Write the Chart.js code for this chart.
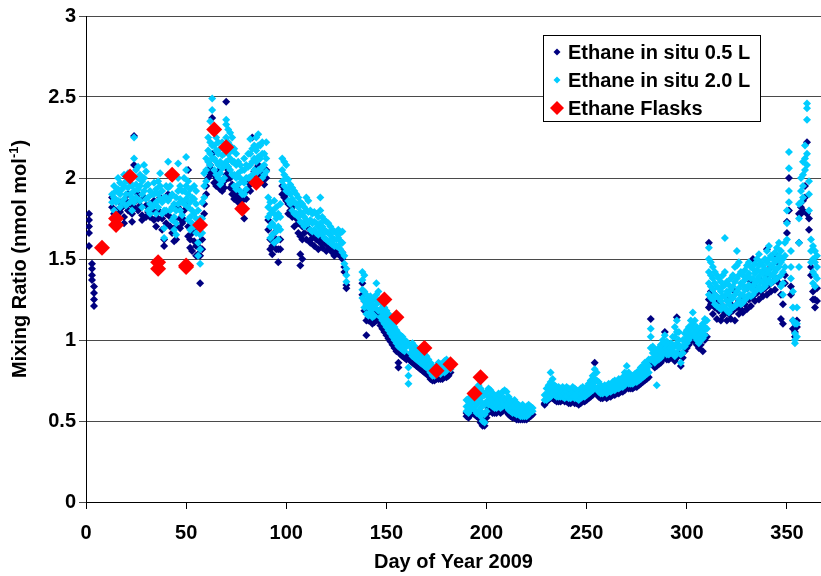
<!DOCTYPE html>
<html>
<head>
<meta charset="utf-8">
<script src="https://cdn.jsdelivr.net/npm/chart.js@4/dist/chart.umd.min.js"></script>
<style>
  body { margin: 0; background: #fff; }
  #wrap { width: 821px; height: 576px; }
</style>
</head>
<body>
<div id="wrap"><canvas id="ethaneChart" width="821" height="576"></canvas></div>
<script>
// each row: [day, value, value, ...] (nmol/mol)
const insitu05 = [
  [1.5, 1.78, 1.74, 1.70, 1.66, 1.58], [3, 1.47, 1.44, 1.40, 1.37], [4, 1.33, 1.29, 1.25, 1.21],
  [13, 1.88, 1.82], [14, 1.78], [15, 1.80, 1.86], [16, 1.75], [17, 1.85, 1.79],
  [18, 1.82], [19, 1.76, 1.72], [20, 1.86], [21, 1.80, 1.90], [22, 1.84],
  [23, 1.78, 1.73], [24, 2.26, 2.08, 1.82], [25, 1.86], [26, 1.90, 1.80], [27, 1.83],
  [28, 1.77, 1.74], [29, 1.88], [30, 1.83, 1.76], [31, 1.79], [32, 1.76, 1.84],
  [33, 1.80], [34, 1.74, 1.86], [35, 1.70], [36, 1.80, 1.75], [37, 1.88],
  [38, 1.75, 1.68], [39, 1.62, 1.58], [40, 1.78, 1.72], [41, 1.90], [42, 1.76, 1.70],
  [43, 1.66], [44, 1.61, 1.74], [45, 1.70, 1.62], [46, 1.82], [47, 1.75, 1.69],
  [48, 1.72], [49, 1.80, 1.74], [50, 1.85], [51, 2.05, 1.70, 1.64], [52, 1.62, 1.57],
  [53, 1.66, 1.55], [54, 1.68, 1.61], [55, 1.58, 1.52], [56, 1.58, 1.53],
  [57, 1.52, 1.35], [58, 1.62, 1.56], [59, 1.84, 1.78], [60, 1.95, 1.90], [61, 2.05, 2.00],
  [62, 2.08, 2.02], [63, 2.37, 2.15, 2.05], [64, 2.02, 1.97], [65, 2.00, 1.95], [66, 2.04, 1.98],
  [67, 1.98, 1.93], [68, 1.96, 1.92], [69, 1.98, 1.94], [70, 2.47, 2.08, 2.02], [71, 2.05, 2.00],
  [72, 2.00, 1.94], [73, 1.96, 1.90], [74, 1.92, 1.87], [75, 1.94, 1.88], [76, 1.90, 1.85],
  [77, 1.88, 1.82], [78, 1.86, 1.80], [79, 1.88, 1.75], [80, 1.92, 1.87], [81, 1.98, 1.93],
  [82, 1.96, 1.92], [83, 2.25, 2.00], [84, 2.04, 1.98], [85, 2.06, 2.00], [86, 2.08, 2.02],
  [87, 2.06, 2.00], [88, 2.02, 1.98], [89, 2.00, 1.96], [90, 2.05, 2.00], [91, 1.74, 1.68],
  [92, 1.62, 1.56], [93, 1.58, 1.53], [94, 1.66, 1.60], [95, 1.62, 1.56], [96, 1.56, 1.48],
  [97, 1.62, 1.56], [98, 1.95, 1.90], [99, 1.93, 1.88], [100, 1.90, 1.86], [101, 1.84, 1.78],
  [102, 1.80], [103, 1.76, 1.82], [104, 1.70], [105, 1.75], [106, 1.66, 1.72],
  [107, 1.64, 1.53, 1.46], [108, 1.70, 1.62, 1.50], [109, 1.66], [110, 1.72, 1.62],
  [111, 1.69], [112, 1.60, 1.66], [113, 1.63], [114, 1.66, 1.58], [115, 1.62],
  [116, 1.64, 1.56], [117, 1.60], [118, 1.62, 1.57], [119, 1.60], [120, 1.55, 1.60],
  [121, 1.58], [122, 1.56, 1.60], [123, 1.54], [124, 1.57, 1.52], [125, 1.55],
  [126, 1.53, 1.57], [127, 1.52], [128, 1.50, 1.54], [129, 1.45, 1.42], [130, 1.34, 1.32],
  [138, 1.35, 1.28], [139, 1.24, 1.18], [140, 1.12, 1.03], [141, 1.14, 1.12], [142, 1.15, 1.12],
  [143, 1.12, 1.10], [144, 1.13, 1.11], [145, 1.18, 1.12], [146, 1.16, 1.12], [147, 1.12, 1.09],
  [148, 1.10, 1.07], [149, 1.08, 1.05], [150, 1.06, 1.03], [151, 1.04, 1.01], [152, 1.02, 0.99],
  [153, 1.00, 0.97], [154, 0.98, 0.95], [155, 0.96, 0.93], [156, 0.94, 0.86, 0.83], [157, 0.93, 0.91],
  [158, 0.92, 0.90], [159, 0.91, 0.89], [160, 0.90, 0.88], [161, 0.89], [162, 0.89, 0.87],
  [163, 0.88, 0.86], [164, 0.87, 0.85], [165, 0.86, 0.84], [166, 0.85, 0.83], [167, 0.84, 0.82],
  [168, 0.83, 0.81], [169, 0.82, 0.80], [170, 0.81, 0.79], [171, 0.80, 0.78], [172, 0.78, 0.76],
  [173, 0.77, 0.75], [174, 0.76, 0.75], [175, 0.77, 0.76], [176, 0.78, 0.76], [177, 0.77, 0.76],
  [178, 0.78, 0.76], [179, 0.78, 0.77], [180, 0.79, 0.77], [181, 0.80, 0.78], [182, 0.80],
  [190, 0.55, 0.53], [191, 0.54, 0.52], [192, 0.56, 0.54], [193, 0.57, 0.55], [194, 0.56, 0.54],
  [195, 0.55, 0.53], [196, 0.54, 0.52], [197, 0.51, 0.49], [198, 0.48, 0.47], [199, 0.49, 0.47],
  [200, 0.54, 0.52], [201, 0.58, 0.56], [202, 0.58, 0.56], [203, 0.57, 0.55], [204, 0.56, 0.55],
  [205, 0.56, 0.55], [206, 0.57, 0.56], [207, 0.56, 0.55], [208, 0.57, 0.56], [209, 0.58, 0.57],
  [210, 0.57, 0.56], [211, 0.55, 0.54], [212, 0.54, 0.53], [213, 0.53, 0.52], [214, 0.53, 0.52],
  [215, 0.52, 0.51], [216, 0.52, 0.51], [217, 0.51], [218, 0.51], [219, 0.51], [220, 0.51],
  [221, 0.52], [222, 0.53], [223, 0.54],
  [229, 0.61, 0.60], [230, 0.62], [231, 0.63], [232, 0.64], [233, 0.64], [234, 0.63], [235, 0.62],
  [236, 0.62], [237, 0.62], [238, 0.63], [239, 0.62], [240, 0.62], [241, 0.61], [242, 0.61],
  [243, 0.62], [244, 0.61], [245, 0.61], [246, 0.60], [247, 0.61], [248, 0.62], [249, 0.62],
  [250, 0.63], [251, 0.64], [252, 0.65], [253, 0.66], [254, 0.86, 0.68], [255, 0.67], [256, 0.65],
  [257, 0.64], [258, 0.64], [259, 0.65], [260, 0.64], [261, 0.65], [262, 0.65], [263, 0.66],
  [264, 0.66], [265, 0.67], [266, 0.67], [267, 0.68], [268, 0.68], [269, 0.69], [270, 0.71],
  [271, 0.70], [272, 0.70], [273, 0.70], [274, 0.71], [275, 0.71], [276, 0.72], [277, 0.73],
  [278, 0.74], [279, 0.75], [280, 0.76], [281, 0.77], [282, 1.13, 0.86], [283, 0.85], [284, 0.83],
  [285, 0.84], [286, 0.85], [287, 0.86], [288, 0.88], [289, 1.05, 0.90], [290, 0.88], [291, 0.88],
  [292, 0.89], [293, 0.90], [294, 0.87], [295, 1.14, 0.89], [296, 0.92], [297, 0.84], [298, 0.89],
  [299, 0.93], [300, 0.95], [301, 0.97], [302, 0.99], [303, 1.01], [304, 0.99], [305, 0.97],
  [306, 0.95], [307, 0.97], [308, 0.93], [309, 1.00], [310, 1.02],
  [311, 1.60, 1.25, 1.20], [312, 1.30, 1.22], [313, 1.16], [314, 1.20, 1.28], [315, 1.13],
  [316, 1.18, 1.24], [317, 1.12], [318, 1.21, 1.15], [319, 1.17], [320, 1.12, 1.26],
  [321, 1.16], [322, 1.22, 1.13], [323, 1.18], [324, 1.12, 1.30], [325, 1.20],
  [326, 1.24, 1.16], [327, 1.19], [328, 1.26, 1.17], [329, 1.22], [330, 1.19, 1.32],
  [331, 1.25], [332, 1.21, 1.36], [333, 1.50, 1.27], [334, 1.24, 1.33], [335, 1.29],
  [336, 1.25, 1.38], [337, 1.30], [338, 1.27, 1.42], [339, 1.32], [340, 1.56, 1.28, 1.40],
  [341, 1.34], [342, 1.30, 1.45], [343, 1.36], [344, 1.53, 1.31], [345, 1.38],
  [346, 1.35, 1.47], [347, 1.28, 1.13], [348, 1.22, 1.10], [349, 1.40, 1.35], [350, 1.73, 1.66],
  [351, 2.00, 1.80], [352, 1.33, 1.28], [353, 1.12, 1.07], [354, 1.05, 1.02], [355, 1.12, 1.08],
  [356, 1.78, 1.60], [357, 1.82, 1.78], [358, 1.86, 1.80], [359, 1.95, 1.88], [360, 2.22, 1.78],
  [361, 1.75, 1.68], [362, 1.45, 1.40], [363, 1.30, 1.25], [364, 1.25, 1.20], [365, 1.32, 1.24]
];

const insitu20 = [
  [13, 1.90, 1.85], [14, 1.95, 1.88, 1.80], [15, 1.92, 1.85], [16, 2.00, 1.93, 1.86],
  [17, 1.97, 1.90, 1.82], [18, 1.93, 1.85], [19, 2.02, 1.95, 1.87], [20, 1.98, 1.90, 1.83],
  [21, 2.03, 1.94], [22, 1.97, 1.90, 1.85], [23, 1.95, 1.88, 1.80], [24, 2.25, 2.12, 1.92, 1.85],
  [25, 2.05, 1.96, 1.88], [26, 2.07, 2.00, 1.93], [27, 2.02, 1.95, 1.86], [28, 1.98, 1.90, 1.82],
  [29, 2.08, 2.00, 1.92], [30, 2.04, 1.95, 1.87], [31, 1.96, 1.88, 1.80], [32, 1.92, 1.84, 1.78],
  [33, 1.90, 1.82], [34, 1.97, 1.90, 1.83], [35, 1.93, 1.85, 1.78], [36, 1.98, 1.90, 1.82],
  [37, 2.03, 1.95, 1.87], [38, 1.92, 1.85, 1.78], [39, 1.88, 1.80, 1.69, 1.63], [40, 1.95, 1.88, 1.80],
  [41, 2.10, 2.02, 1.94, 1.86], [42, 1.95, 1.88, 1.80], [43, 1.90, 1.82, 1.74], [44, 1.84, 1.76, 1.68],
  [45, 1.88, 1.80, 1.72, 1.65], [46, 2.09, 2.00, 1.92, 1.84], [47, 1.95, 1.87, 1.80], [48, 1.92, 1.85, 1.77],
  [49, 2.00, 1.92, 1.84], [50, 2.13, 2.05, 1.95, 1.87], [51, 1.98, 1.90, 1.82, 1.74],
  [52, 1.93, 1.85, 1.76, 1.68], [53, 1.88, 1.80, 1.72], [54, 1.95, 1.87, 1.78, 1.70],
  [55, 1.92, 1.84, 1.75, 1.66], [56, 1.80, 1.70, 1.60, 1.52], [57, 1.75, 1.65, 1.56, 1.47],
  [58, 1.85, 1.75, 1.66], [59, 1.95, 2.03, 1.88], [60, 2.12, 2.05, 1.98], [61, 2.25, 2.17, 2.10],
  [62, 2.35, 2.22, 2.15, 2.08], [63, 2.49, 2.42, 2.30, 2.20, 2.12], [64, 2.28, 2.20, 2.12, 2.05],
  [65, 2.25, 2.17, 2.10, 2.02], [66, 2.22, 2.15, 2.08, 2.00], [67, 2.18, 2.10, 2.03, 1.96],
  [68, 2.22, 2.14, 2.06, 1.98], [69, 2.15, 2.08, 2.00], [70, 2.36, 2.33, 2.25, 2.17, 2.10],
  [71, 2.30, 2.22, 2.15, 2.07], [72, 2.28, 2.20, 2.12, 2.05], [73, 2.25, 2.17, 2.10, 2.02],
  [74, 2.18, 2.10, 2.02, 1.95], [75, 2.15, 2.08, 2.00, 1.93], [76, 2.10, 2.03, 1.96],
  [77, 2.08, 2.00, 1.92], [78, 2.05, 1.98, 1.90], [79, 2.12, 2.05, 1.97, 1.90], [80, 2.08, 2.00, 1.93],
  [81, 2.15, 2.07, 2.00], [82, 2.24, 2.15, 2.08, 2.00], [83, 2.18, 2.10, 2.02], [84, 2.20, 2.12, 2.05],
  [85, 2.25, 2.17, 2.10, 2.03], [86, 2.27, 2.20, 2.13, 2.05], [87, 2.20, 2.12, 2.05],
  [88, 2.22, 2.15, 2.07, 2.00], [89, 2.15, 2.08, 2.02], [90, 2.22, 2.12, 2.04], [91, 1.88, 1.82, 1.76],
  [92, 1.85, 1.78, 1.70, 1.63], [93, 1.80, 1.72, 1.65], [94, 1.86, 1.78, 1.70, 1.60],
  [95, 1.82, 1.75, 1.67], [96, 1.78, 1.70, 1.62], [97, 1.84, 1.76, 1.68], [98, 2.12, 2.05, 1.98],
  [99, 2.10, 2.02, 1.95], [100, 2.08, 2.00, 1.92], [101, 1.99, 1.93, 1.86], [102, 1.96, 1.90, 1.84],
  [103, 1.94, 1.87, 1.80], [104, 1.92, 1.85, 1.78], [105, 1.90, 1.84, 1.78], [106, 1.88, 1.82, 1.76],
  [107, 1.85, 1.79, 1.73], [108, 1.84, 1.78, 1.72], [109, 1.82, 1.76, 1.70], [110, 1.88, 1.80, 1.74],
  [111, 1.86, 1.79, 1.72], [112, 1.80, 1.74, 1.68], [113, 1.78, 1.72, 1.67], [114, 1.79, 1.73, 1.68],
  [115, 1.78, 1.72, 1.66], [116, 1.76, 1.70, 1.65], [117, 1.88, 1.80, 1.72, 1.67], [118, 1.76, 1.70, 1.65],
  [119, 1.74, 1.68, 1.63], [120, 1.73, 1.67, 1.62], [121, 1.72, 1.66, 1.61], [122, 1.70, 1.65, 1.60],
  [123, 1.68, 1.63, 1.59], [124, 1.67, 1.62, 1.58], [125, 1.66, 1.62, 1.58], [126, 1.68, 1.63, 1.58],
  [127, 1.66, 1.61, 1.56], [128, 1.67, 1.60, 1.54], [129, 1.52, 1.47], [130, 1.44, 1.40, 1.36],
  [138, 1.42, 1.37, 1.31, 1.26], [139, 1.40, 1.30, 1.24, 1.20], [140, 1.28, 1.22, 1.16],
  [141, 1.25, 1.20, 1.15], [142, 1.27, 1.22, 1.17], [143, 1.24, 1.19, 1.14], [144, 1.26, 1.20, 1.15],
  [145, 1.35, 1.28, 1.22], [146, 1.30, 1.24, 1.18], [147, 1.24, 1.19, 1.14], [148, 1.22, 1.17, 1.12],
  [149, 1.20, 1.15, 1.10], [150, 1.18, 1.13, 1.08], [151, 1.16, 1.11, 1.06], [152, 1.13, 1.08, 1.04],
  [153, 1.10, 1.06, 1.02], [154, 1.08, 1.04, 1.00], [155, 1.06, 1.02, 0.98], [156, 1.04, 1.00, 0.96],
  [157, 1.03, 0.99, 0.95], [158, 1.02, 0.98, 0.94], [159, 1.00, 0.97, 0.93], [160, 0.99, 0.96],
  [161, 0.97, 0.83, 0.78, 0.73], [162, 0.96, 0.92], [163, 0.98, 0.94, 0.90], [164, 0.96, 0.92, 0.89],
  [165, 0.95, 0.91, 0.88], [166, 0.94, 0.90, 0.87], [167, 0.93, 0.89, 0.86], [168, 0.92, 0.88, 0.85],
  [169, 0.91, 0.87, 0.84], [170, 0.90, 0.86, 0.83], [171, 0.88, 0.85, 0.82], [172, 0.86, 0.83, 0.80],
  [173, 0.84, 0.81, 0.78], [174, 0.83, 0.80, 0.78], [175, 0.84, 0.81, 0.79], [176, 0.86, 0.82, 0.80],
  [177, 0.85, 0.82, 0.79], [178, 0.84, 0.81], [179, 0.87, 0.83, 0.80], [180, 0.88, 0.84, 0.81],
  [181, 0.86, 0.83], [182, 0.85, 0.82],
  [190, 0.63, 0.59, 0.56], [191, 0.62, 0.58, 0.55], [192, 0.65, 0.60, 0.57], [193, 0.67, 0.63, 0.58],
  [194, 0.66, 0.62, 0.57], [195, 0.70, 0.65, 0.60, 0.55], [196, 0.72, 0.67, 0.62, 0.56],
  [197, 0.70, 0.64, 0.58, 0.53], [198, 0.68, 0.61, 0.55, 0.50], [199, 0.66, 0.60, 0.54, 0.49],
  [200, 0.68, 0.62, 0.56], [201, 0.70, 0.65, 0.60], [202, 0.69, 0.64, 0.60], [203, 0.67, 0.63, 0.59],
  [204, 0.66, 0.62, 0.58], [205, 0.65, 0.61, 0.58], [206, 0.67, 0.63, 0.59], [207, 0.66, 0.62, 0.58],
  [208, 0.68, 0.63, 0.59], [209, 0.69, 0.64, 0.60], [210, 0.68, 0.63, 0.59], [211, 0.65, 0.61, 0.57],
  [212, 0.63, 0.59, 0.56], [213, 0.62, 0.58, 0.55], [214, 0.63, 0.59, 0.55], [215, 0.61, 0.57, 0.54],
  [216, 0.60, 0.57, 0.54], [217, 0.59, 0.56, 0.53], [218, 0.60, 0.56, 0.53], [219, 0.58, 0.55, 0.53],
  [220, 0.59, 0.56, 0.53], [221, 0.60, 0.57, 0.54], [222, 0.59, 0.56], [223, 0.58, 0.56],
  [229, 0.66, 0.63], [230, 0.70, 0.66, 0.63], [231, 0.72, 0.68, 0.64], [232, 0.80, 0.74, 0.69, 0.65],
  [233, 0.76, 0.71, 0.67], [234, 0.72, 0.69, 0.66], [235, 0.71, 0.68, 0.65], [236, 0.71, 0.68, 0.65],
  [237, 0.70, 0.67, 0.65], [238, 0.71, 0.68, 0.65], [239, 0.70, 0.67, 0.64], [240, 0.71, 0.68, 0.65],
  [241, 0.70, 0.67, 0.64], [242, 0.69, 0.67, 0.64], [243, 0.71, 0.68, 0.65], [244, 0.70, 0.67, 0.64],
  [245, 0.69, 0.66, 0.64], [246, 0.68, 0.66, 0.63], [247, 0.70, 0.67, 0.64], [248, 0.71, 0.68, 0.65],
  [249, 0.70, 0.67, 0.65], [250, 0.71, 0.68, 0.66], [251, 0.73, 0.70, 0.67], [252, 0.75, 0.71, 0.68],
  [253, 0.78, 0.73, 0.69], [254, 0.82, 0.76, 0.71], [255, 0.80, 0.75, 0.70], [256, 0.74, 0.71, 0.68],
  [257, 0.72, 0.69, 0.67], [258, 0.71, 0.69, 0.67], [259, 0.72, 0.70, 0.68], [260, 0.71, 0.69, 0.67],
  [261, 0.73, 0.70, 0.68], [262, 0.72, 0.70, 0.68], [263, 0.74, 0.71, 0.69], [264, 0.75, 0.72, 0.69],
  [265, 0.74, 0.72, 0.70], [266, 0.76, 0.73, 0.70], [267, 0.75, 0.73, 0.71], [268, 0.77, 0.74, 0.71],
  [269, 0.80, 0.76, 0.72], [270, 0.84, 0.79, 0.74], [271, 0.80, 0.76, 0.73], [272, 0.77, 0.75, 0.73],
  [273, 0.78, 0.75, 0.73], [274, 0.79, 0.76, 0.74], [275, 0.80, 0.77, 0.74], [276, 0.81, 0.78, 0.75],
  [277, 0.83, 0.79, 0.76], [278, 0.84, 0.80, 0.77], [279, 0.86, 0.82, 0.78], [280, 0.85, 0.82, 0.79],
  [281, 0.88, 0.84, 0.80], [282, 1.07, 1.02, 0.95, 0.88], [283, 0.96, 0.92, 0.88], [284, 0.94, 0.90, 0.86],
  [285, 0.93, 0.89, 0.72], [286, 0.95, 0.91, 0.88], [287, 0.97, 0.93, 0.89], [288, 1.00, 0.95, 0.91],
  [289, 1.03, 0.98, 0.94], [290, 0.99, 0.95, 0.91], [291, 0.97, 0.94, 0.91], [292, 0.98, 0.95, 0.92],
  [293, 1.02, 0.97, 0.93], [294, 1.08, 1.02, 0.96, 0.90], [295, 1.12, 1.05, 0.98, 0.92],
  [296, 1.05, 1.00, 0.95], [297, 0.96, 0.91, 0.86], [298, 1.00, 0.96, 0.92], [299, 1.04, 1.00, 0.96],
  [300, 1.06, 1.02, 0.98], [301, 1.08, 1.04, 1.00], [302, 1.12, 1.07, 1.02], [303, 1.17, 1.10, 1.04],
  [304, 1.12, 1.07, 1.02], [305, 1.08, 1.04, 1.00], [306, 1.06, 1.02, 0.98], [307, 1.08, 1.04, 1.00],
  [308, 1.10, 1.05, 1.01], [309, 1.13, 1.08, 1.03], [310, 1.12, 1.07],
  [311, 1.57, 1.50, 1.42, 1.35, 1.28], [312, 1.48, 1.40, 1.33, 1.26], [313, 1.45, 1.38, 1.31, 1.25],
  [314, 1.42, 1.35, 1.28, 1.22], [315, 1.40, 1.33, 1.27, 1.21], [316, 1.38, 1.32, 1.26, 1.20],
  [317, 1.36, 1.30, 1.24, 1.19], [318, 1.40, 1.33, 1.27, 1.21], [319, 1.63, 1.42, 1.34, 1.27, 1.20],
  [320, 1.36, 1.30, 1.24, 1.18], [321, 1.34, 1.28, 1.22, 1.17], [322, 1.38, 1.31, 1.25, 1.19],
  [323, 1.40, 1.33, 1.26, 1.20], [324, 1.45, 1.36, 1.28, 1.21], [325, 1.55, 1.46, 1.38, 1.30, 1.22],
  [326, 1.48, 1.40, 1.32, 1.25], [327, 1.42, 1.35, 1.28, 1.22], [328, 1.40, 1.34, 1.28, 1.23],
  [329, 1.43, 1.37, 1.31, 1.25], [330, 1.46, 1.39, 1.32, 1.26], [331, 1.48, 1.41, 1.34, 1.28],
  [332, 1.45, 1.38, 1.32, 1.27], [333, 1.44, 1.38, 1.33, 1.28], [334, 1.47, 1.41, 1.35, 1.30],
  [335, 1.50, 1.43, 1.37, 1.31], [336, 1.53, 1.46, 1.39, 1.33], [337, 1.48, 1.42, 1.36, 1.31],
  [338, 1.46, 1.41, 1.36, 1.32], [339, 1.50, 1.44, 1.38, 1.33], [340, 1.55, 1.48, 1.41, 1.35],
  [341, 1.58, 1.50, 1.43, 1.37], [342, 1.52, 1.46, 1.40, 1.35], [343, 1.50, 1.45, 1.40],
  [344, 1.54, 1.48, 1.42, 1.37], [345, 1.57, 1.50, 1.44, 1.38], [346, 1.60, 1.52, 1.45],
  [347, 1.55, 1.48, 1.40, 1.33], [348, 1.50, 1.42, 1.35, 1.28], [349, 1.60, 1.52, 1.45],
  [350, 1.80, 1.72, 1.62], [351, 2.16, 2.06, 1.92, 1.85], [352, 1.55, 1.45, 1.38], [353, 1.30, 1.20, 1.12],
  [354, 1.10, 1.04, 1.00, 0.98], [355, 1.20, 1.10, 1.02], [356, 1.84, 1.75, 1.60, 1.45],
  [357, 2.00, 1.92, 1.85], [358, 2.10, 2.02, 1.95, 1.88], [359, 2.20, 2.12, 2.05],
  [360, 2.46, 2.43, 2.36, 2.15, 2.08], [361, 1.98, 1.90, 1.80], [362, 1.62, 1.55, 1.48],
  [363, 1.58, 1.50, 1.42, 1.35], [364, 1.55, 1.48, 1.40, 1.33], [365, 1.52, 1.45, 1.38]
];

const flaskDays = [8, 15, 15, 22, 36, 36, 43, 50, 50, 57, 64, 70, 78, 85, 149, 155, 169, 175, 182, 194, 197];
const flaskVals = [1.57, 1.75, 1.71, 2.01, 1.48, 1.44, 2.02, 1.46, 1.45, 1.71, 2.30, 2.19, 1.81, 1.97, 1.25, 1.14, 0.95, 0.81, 0.85, 0.67, 0.77];

const xTicks = [0, 50, 100, 150, 200, 250, 300, 350];
const yTicks = [0, 0.5, 1, 1.5, 2, 2.5, 3];

const FONT = "'Liberation Sans', Arial, sans-serif";

function toPoints(rows) {
    return rows.flatMap(r => r.slice(1).map(v => ({ x: r[0], y: v })));
}

/* ------------------ Y TITLE (with superscript) ------------------ */
const yTitle = {
    id: "yTitle",
    afterDraw(chart) {
        const ctx = chart.ctx;
        const area = chart.chartArea;
        const main = "Mixing Ratio (nmol mol";
        const sup = "-1";
        const tail = ")";
        ctx.save();
        ctx.translate(20, (area.top + area.bottom) / 2);
        ctx.rotate(-Math.PI / 2);
        ctx.fillStyle = "#000";
        ctx.textBaseline = "middle";
        ctx.font = "bold 20px " + FONT;
        const wMain = ctx.measureText(main).width;
        const wTail = ctx.measureText(tail).width;
        ctx.font = "bold 13px " + FONT;
        const wSup = ctx.measureText(sup).width;
        let x = -(wMain + wSup + wTail) / 2;
        ctx.font = "bold 20px " + FONT;
        ctx.fillText(main, x, 0);
        x += wMain;
        ctx.font = "bold 13px " + FONT;
        ctx.fillText(sup, x, -6);
        x += wSup;
        ctx.font = "bold 20px " + FONT;
        ctx.fillText(tail, x, 0);
        ctx.restore();
    }
};

/* ------------------ BOXED LEGEND ------------------ */
function diamond(ctx, x, y, r, color) {
    ctx.beginPath();
    ctx.moveTo(x, y - r);
    ctx.lineTo(x + r, y);
    ctx.lineTo(x, y + r);
    ctx.lineTo(x - r, y);
    ctx.closePath();
    ctx.fillStyle = color;
    ctx.fill();
}

const boxLegend = {
    id: "boxLegend",
    afterDraw(chart) {
        const ctx = chart.ctx;
        const area = chart.chartArea;
        const left = area.right - 278;
        const top = area.top + 19;
        ctx.save();
        ctx.fillStyle = "#fff";
        ctx.fillRect(left, top, 217, 86);
        ctx.strokeStyle = "#000";
        ctx.lineWidth = 1;
        ctx.strokeRect(left + 0.5, top + 0.5, 217, 86);
        ctx.font = "bold 20px " + FONT;
        ctx.textBaseline = "middle";
        chart.data.datasets.forEach((ds, i) => {
            const y = top + 17 + i * 28;
            const r = ds.pointRadius > 5 ? 7 : 3.5;
            diamond(ctx, left + 14, y, r, ds.backgroundColor);
            ctx.fillStyle = "#000";
            ctx.fillText(ds.label, left + 25, y + 1);
        });
        ctx.restore();
    }
};

/* ------------------ CHART ------------------ */
Chart.defaults.font.family = FONT;
Chart.defaults.font.size = 20;
Chart.defaults.font.weight = "bold";
Chart.defaults.color = "#000";

new Chart(document.getElementById("ethaneChart"), {
    type: "scatter",
    data: {
        datasets: [
            {
                label: "Ethane in situ 0.5 L",
                data: toPoints(insitu05),
                backgroundColor: "#000080",
                pointStyle: "rectRot",
                pointRadius: 4,
                pointBorderWidth: 0,
                order: 2
            },
            {
                label: "Ethane in situ 2.0 L",
                data: toPoints(insitu20),
                backgroundColor: "#00CCFF",
                pointStyle: "rectRot",
                pointRadius: 4,
                pointBorderWidth: 0,
                order: 1
            },
            {
                label: "Ethane Flasks",
                data: flaskDays.map((d, i) => ({ x: d, y: flaskVals[i] })),
                backgroundColor: "#FF0000",
                pointStyle: "rectRot",
                pointRadius: 8,
                pointBorderWidth: 0,
                order: 0
            }
        ]
    },
    options: {
        responsive: false,
        animation: false,
        layout: { autoPadding: false, padding: { top: 16, right: 0, bottom: 0, left: 0 } },
        plugins: {
            legend: { display: false },
            tooltip: { enabled: false }
        },
        scales: {
            x: {
                type: "linear",
                min: 0,
                max: 367,
                afterBuildTicks: axis => { axis.ticks = xTicks.map(v => ({ value: v })); },
                afterFit: axis => {
                    axis.height = 74;
                    axis.paddingLeft = 0;
                    axis.paddingRight = 0;
                },
                ticks: { autoSkip: false, maxRotation: 0, padding: 12 },
                grid: { drawOnChartArea: false, drawTicks: true, tickLength: 7, color: "#000" },
                border: { display: true, color: "#000", width: 1 },
                title: {
                    display: true,
                    text: "Day of Year 2009",
                    font: { size: 20, weight: "bold" },
                    padding: { top: 0, bottom: 2 }
                }
            },
            y: {
                min: 0,
                max: 3,
                afterBuildTicks: axis => { axis.ticks = yTicks.map(v => ({ value: v })); },
                afterFit: axis => {
                    axis.width = 86;
                    axis.paddingTop = 0;
                    axis.paddingBottom = 0;
                },
                ticks: { padding: 3, callback: v => String(v) },
                grid: { color: "#4a4a4a", lineWidth: 1, drawTicks: true, tickLength: 7 },
                border: { display: true, color: "#000", width: 1 }
            }
        }
    },
    plugins: [yTitle, boxLegend]
});
</script>
</body>
</html>
